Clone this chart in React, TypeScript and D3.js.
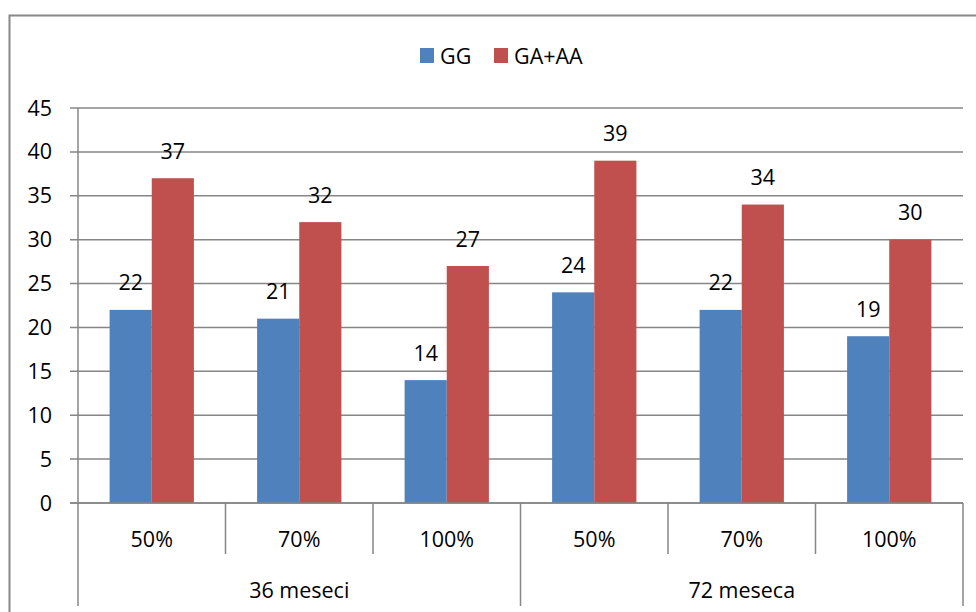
import React from "react";
import * as d3 from "d3";

const categories = ["50%", "70%", "100%", "50%", "70%", "100%"];
const groups = ["36 meseci", "72 meseca"];
const seriesNames = ["GG", "GA+AA"];
const gg = [22, 21, 14, 24, 22, 19];
const gaaa = [37, 32, 27, 39, 34, 30];
const yTicks = [0, 5, 10, 15, 20, 25, 30, 35, 40, 45];
const colors = ["#4F81BD", "#C0504D"];

const W = 976, H = 612;
const left = 78, right = 963, top = 108, bottom = 503;
const font = "'Open Sans', sans-serif";
const fs = 21.5;
const gridColor = "#868686";

export default function App() {
  const y = d3.scaleLinear().domain([0, 45]).range([bottom, top]);
  const x = d3.scaleBand<number>().domain(d3.range(categories.length)).range([left, right]).paddingInner(0).paddingOuter(0);
  const bw = x.bandwidth();
  const barW = bw / 3.5;
  const series = [gg, gaaa];
  const groupScale = d3.scaleBand<number>().domain([0, 1]).range([left, right]);
  return (
    <svg width={W} height={H} style={{ position: "absolute", left: 0, top: 0 }}>
      <rect x={0} y={0} width={W} height={H} fill="#fff" />
      <rect x={9.5} y={15.5} width={1000} height={700} fill="none" stroke="#888" strokeWidth={2} />
      {yTicks.map((t) => (
        <g key={t}>
          <line x1={left - 8} x2={right} y1={y(t)} y2={y(t)} stroke={gridColor} strokeWidth={1.5} />
          <text x={left - 26} y={y(t)} dy="0.35em" textAnchor="end" fontFamily={font} fontSize={fs} fill="#000">{t}</text>
        </g>
      ))}
      <line x1={left} x2={left} y1={top} y2={606} stroke={gridColor} strokeWidth={1.5} />
      {categories.map((c, i) => (
        <g key={i}>
          {i > 0 && i !== 3 && <line x1={x(i)!} x2={x(i)!} y1={bottom} y2={554} stroke={gridColor} strokeWidth={1.5} />}
          <text x={x(i)! + bw / 2} y={539} dy="0.35em" textAnchor="middle" fontFamily={font} fontSize={fs}>{c}</text>
        </g>
      ))}
      <line x1={x(3)!} x2={x(3)!} y1={bottom} y2={606} stroke={gridColor} strokeWidth={1.5} />
      <line x1={right} x2={right} y1={bottom} y2={606} stroke={gridColor} strokeWidth={1.5} />
      {groups.map((g, i) => (
        <text key={g} x={groupScale(i)! + groupScale.bandwidth() / 2} y={590} dy="0.35em" textAnchor="middle" fontFamily={font} fontSize={fs}>{g}</text>
      ))}
      {series.map((s, si) =>
        s.map((v, i) => {
          const bx = x(i)! + (bw - 2 * barW) / 2 + si * barW;
          return (
            <g key={si + "-" + i}>
              <rect x={bx} y={y(v)} width={barW} height={bottom - y(v)} fill={colors[si]} />
              <text x={bx + barW / 2} y={y(v) - 27} dy="0.35em" textAnchor="middle" fontFamily={font} fontSize={fs}>{v}</text>
            </g>
          );
        })
      )}
      <line x1={left - 8} x2={right} y1={bottom} y2={bottom} stroke={gridColor} strokeWidth={1.5} />
      {seriesNames.map((n, i) => {
        const lx = i === 0 ? 420 : 494;
        return (
          <g key={n}>
            <rect x={lx} y={48} width={14} height={15} fill={colors[i]} />
            <text x={lx + 20} y={56} dy="0.35em" fontFamily={font} fontSize={fs}>{n}</text>
          </g>
        );
      })}
    </svg>
  );
}
